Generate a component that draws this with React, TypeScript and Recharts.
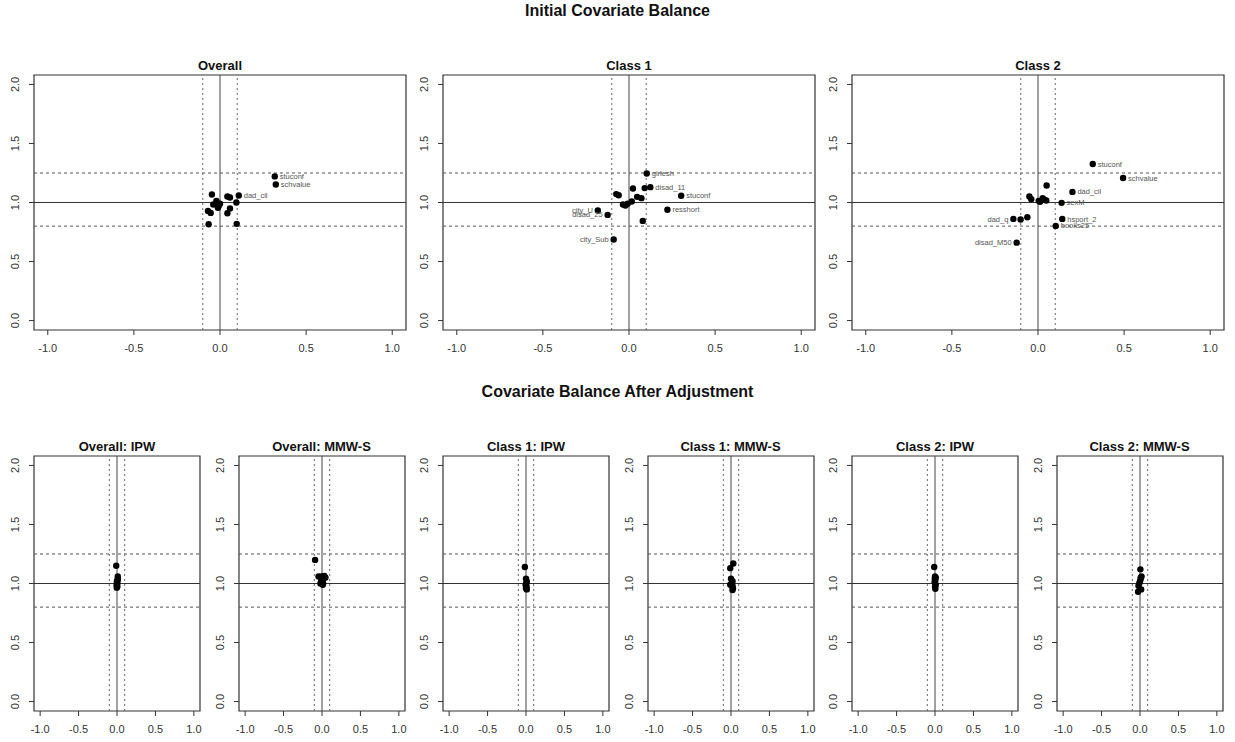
import { ScatterChart, Scatter, XAxis, YAxis, ReferenceLine, ReferenceArea } from "recharts";

// standardized mean difference (x) vs variance ratio (y)
const xTicks = [-1, -0.5, 0, 0.5, 1];
const yTicks = [0, 0.5, 1, 1.5, 2];

const overallSmd = [0.318, 0.324, 0.109, -0.047, 0.043, 0.058, 0.095, -0.021, -0.039, -0.008, -0.012, -0.07, -0.054, 0.058, 0.043, -0.066, 0.097, 0.0];
const overallVr = [1.221, 1.153, 1.059, 1.068, 1.051, 1.042, 1.0, 1.014, 0.983, 0.969, 0.955, 0.929, 0.912, 0.949, 0.909, 0.816, 0.819, 0.99];
const overallNames = ["stuconf", "schvalue", "dad_cil"];

const class1Smd = [0.103, 0.124, 0.303, 0.223, -0.181, -0.124, -0.089, 0.08, 0.023, 0.091, -0.074, -0.06, 0.047, 0.072, -0.035, -0.021, -0.008, 0.016];
const class1Vr = [1.246, 1.13, 1.057, 0.938, 0.932, 0.895, 0.686, 0.844, 1.119, 1.122, 1.071, 1.062, 1.048, 1.037, 0.983, 0.975, 0.989, 1.008];
const class1Names = ["girlesh", "disad_11", "stuconf", "resshort", "city_U", "disad_25", "city_Sub"];

const class2Smd = [0.318, 0.494, 0.2, 0.137, 0.141, 0.103, -0.143, -0.124, -0.101, -0.062, 0.05, -0.05, -0.039, 0.004, 0.027, 0.035, 0.048, 0.012];
const class2Vr = [1.326, 1.207, 1.09, 0.997, 0.861, 0.802, 0.861, 0.66, 0.856, 0.875, 1.144, 1.051, 1.028, 1.014, 1.037, 1.025, 1.017, 1.006];
const class2Names = ["stuconf", "schvalue", "dad_cil", "sexM", "hsport_2", "books25", "dad_q", "disad_M50"];

const ipwOverallSmd = [-0.01, 0.01, 0.012, 0.0, 0.004, -0.005, 0.005, -0.003, 0.008, 0.0];
const ipwOverallVr = [1.15, 1.06, 1.04, 1.02, 1.0, 0.985, 0.975, 0.965, 1.03, 1.01];
const mmwOverallSmd = [-0.09, -0.045, -0.01, 0.03, 0.045, 0.02, 0.0, -0.02, 0.01, 0.015, -0.01];
const mmwOverallVr = [1.2, 1.06, 1.06, 1.065, 1.05, 1.04, 1.02, 1.0, 0.99, 1.0, 1.03];
const ipwClass1Smd = [-0.015, 0.0, 0.01, 0.005, -0.005, 0.008, 0.0, 0.01];
const ipwClass1Vr = [1.14, 1.04, 1.02, 1.0, 0.99, 0.97, 0.96, 0.95];
const mmwClass1Smd = [0.03, -0.01, 0.0, 0.02, 0.01, -0.01, 0.02, 0.025, 0.02];
const mmwClass1Vr = [1.17, 1.13, 1.04, 1.02, 1.0, 0.99, 0.98, 0.96, 0.945];
const ipwClass2Smd = [-0.01, 0.0, 0.01, 0.005, -0.005, 0.01, 0.0, 0.005, -0.003];
const ipwClass2Vr = [1.14, 1.06, 1.05, 1.03, 1.01, 0.99, 0.97, 0.955, 1.04];
const mmwClass2Smd = [0.005, 0.02, 0.01, 0.0, -0.01, -0.02, 0.015, -0.025, 0.01];
const mmwClass2Vr = [1.12, 1.06, 1.04, 1.02, 1.0, 0.98, 0.95, 0.93, 1.05];

type Pt = { x: number; y: number; name: string };

const toPoints = (xs: number[], ys: number[], names: string[] = []): Pt[] =>
  xs.map((x, i) => ({ x, y: ys[i], name: names[i] || "" }));

const FONT = "'Liberation Sans', Arial, Helvetica, sans-serif";

function Dot(props: any) {
  const { cx, cy, payload } = props;
  const left = payload.x < 0;
  return (
    <g>
      <circle cx={cx} cy={cy} r={3.2} fill="#000" />
      {payload.name ? (
        <text
          x={left ? cx - 5 : cx + 5}
          y={cy + 2.6}
          textAnchor={left ? "end" : "start"}
          fontSize={7.5}
          fontFamily={FONT}
          fill="#555"
        >
          {payload.name}
        </text>
      ) : null}
    </g>
  );
}

const XTick = (p: any) => (
  <text x={p.x} y={p.y + 15} textAnchor="middle" fontSize={11} fontFamily={FONT} fill="#333">
    {Number(p.payload.value).toFixed(1)}
  </text>
);

const YTick = (p: any) => (
  <text
    x={p.x - 8}
    y={p.y}
    transform={`rotate(-90, ${p.x - 8}, ${p.y})`}
    textAnchor="middle"
    fontSize={11}
    fontFamily={FONT}
    fill="#333"
  >
    {Number(p.payload.value).toFixed(1)}
  </text>
);

function Panel({ left, top, boxW, title, data }: { left: number; top: number; boxW: number; title: string; data: Pt[] }) {
  const W = boxW + 40;
  const H = 288;
  return (
    <>
      <div
        style={{
          position: "absolute",
          left: left,
          top: top - 17,
          width: boxW,
          textAlign: "center",
          fontSize: 13,
          fontWeight: "bold",
          lineHeight: "16px",
          color: "#111",
        }}
      >
        {title}
      </div>
      <div style={{ position: "absolute", left: left - 34, top: top - 5, width: W, height: H }}>
        <ScatterChart width={W} height={H} margin={{ top: 5, right: 6, bottom: 0, left: 4 }}>
          <XAxis
            type="number"
            dataKey="x"
            domain={[-1.08, 1.08]}
            ticks={xTicks}
            interval={0}
            allowDataOverflow
            axisLine={false}
            tickLine={{ stroke: "#333" }}
            tickSize={5}
            height={28}
            tick={XTick}
          />
          <YAxis
            type="number"
            dataKey="y"
            domain={[-0.08, 2.08]}
            ticks={yTicks}
            interval={0}
            allowDataOverflow
            axisLine={false}
            tickLine={{ stroke: "#333" }}
            tickSize={5}
            width={30}
            tick={YTick}
          />
          <ReferenceLine y={1.25} stroke="#555" strokeDasharray="3 3" />
          <ReferenceLine y={0.8} stroke="#555" strokeDasharray="3 3" />
          <ReferenceLine x={-0.1} stroke="#666" strokeDasharray="2 3" />
          <ReferenceLine x={0.1} stroke="#666" strokeDasharray="2 3" />
          <ReferenceLine x={0} stroke="#444" />
          <ReferenceLine y={1} stroke="#333" />
          <ReferenceArea x1={-1.08} x2={1.08} y1={-0.08} y2={2.08} fill="none" fillOpacity={0} stroke="#333" strokeWidth={1.2} />
          <Scatter data={data} isAnimationActive={false} shape={Dot} />
        </ScatterChart>
      </div>
    </>
  );
}

const TOP_ROW = 74.5;
const LOW_ROW = 456;

const topPanels = [
  { title: "Overall", data: toPoints(overallSmd, overallVr, overallNames) },
  { title: "Class 1", data: toPoints(class1Smd, class1Vr, class1Names) },
  { title: "Class 2", data: toPoints(class2Smd, class2Vr, class2Names) },
];

const lowPanels = [
  { title: "Overall: IPW", data: toPoints(ipwOverallSmd, ipwOverallVr) },
  { title: "Overall: MMW-S", data: toPoints(mmwOverallSmd, mmwOverallVr) },
  { title: "Class 1: IPW", data: toPoints(ipwClass1Smd, ipwClass1Vr) },
  { title: "Class 1: MMW-S", data: toPoints(mmwClass1Smd, mmwClass1Vr) },
  { title: "Class 2: IPW", data: toPoints(ipwClass2Smd, ipwClass2Vr) },
  { title: "Class 2: MMW-S", data: toPoints(mmwClass2Smd, mmwClass2Vr) },
];

const mainTitle = (text: string, cy: number) => (
  <div
    style={{
      position: "absolute",
      left: 0,
      top: cy - 9,
      width: 1235,
      textAlign: "center",
      fontSize: 16,
      fontWeight: "bold",
      lineHeight: "18px",
      color: "#111",
    }}
  >
    {text}
  </div>
);

export default function App() {
  return (
    <div
      style={{
        position: "absolute",
        left: 0,
        top: 0,
        width: 1235,
        height: 742,
        background: "#fff",
        fontFamily: FONT,
        overflow: "hidden",
      }}
    >
      {mainTitle("Initial Covariate Balance", 11)}
      {topPanels.map((p, i) => (
        <Panel key={p.title} left={34 + 409 * i} top={TOP_ROW} boxW={372} title={p.title} data={p.data} />
      ))}
      {mainTitle("Covariate Balance After Adjustment", 392)}
      {lowPanels.map((p, i) => (
        <Panel key={p.title} left={34 + 204.5 * i} top={LOW_ROW} boxW={166} title={p.title} data={p.data} />
      ))}
    </div>
  );
}
